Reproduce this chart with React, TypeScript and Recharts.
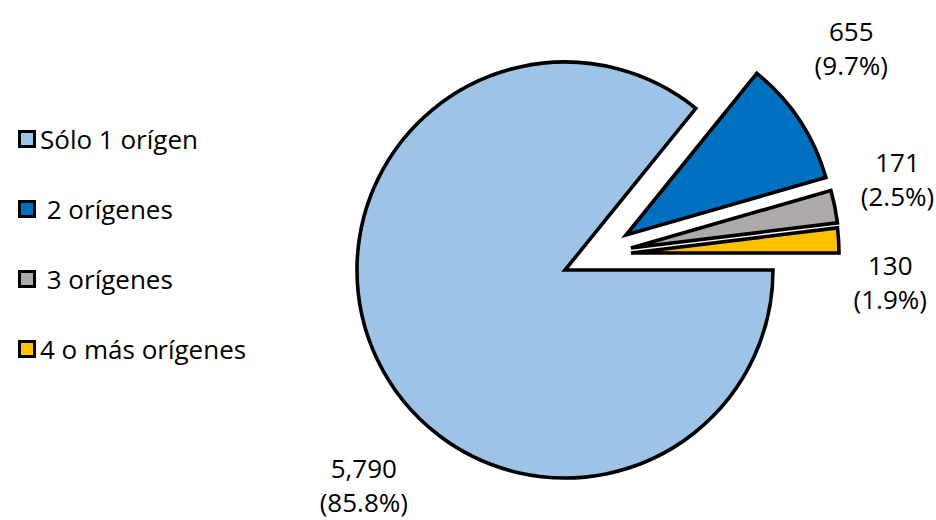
import React from "react";
import { Cell, Legend, Pie, PieChart } from "recharts";

const categories = ["Sólo 1 orígen", " 2 orígenes", " 3 orígenes", "4 o más orígenes"];
const counts = [5790, 655, 171, 130];
const colors = ["#9DC3E6", "#0070C0", "#AEAAAA", "#FFC000"];

// explode offsets (px) for each slice, and where its label sits (angle deg, radius px)
const explode = [
  { dx: 0, dy: 0 },
  { dx: 61, dy: -35 },
  { dx: 66, dy: -22 },
  { dx: 66, dy: -17 },
];
const labelPlace = [
  { angle: -133, r: 295 },
  { angle: 39.5, r: 292 },
  { angle: 14.3, r: 275 },
  { angle: -6.6, r: 261 },
];

const data = categories.map((name, i) => ({ name, value: counts[i] }));
const total = counts.reduce((a, b) => a + b, 0);

const FONT = "'Open Sans', sans-serif";
const CX = 565;
const CY = 270;
const RADIUS = 208;

const fmt = (n: number) => n.toLocaleString("en-US");

const makeLabel = (slice: number) => (props: any) => {
  if (props.index !== slice) return null;
  const p = labelPlace[slice];
  const rad = (p.angle * Math.PI) / 180;
  const x = props.cx + p.r * Math.cos(rad);
  const y = props.cy - p.r * Math.sin(rad);
  const pct = ((counts[slice] / total) * 100).toFixed(1);
  return (
    <text x={x} y={y} textAnchor="middle" fill="#000" fontFamily={FONT} fontSize={26}>
      <tspan x={x} dy={-8}>{fmt(counts[slice])}</tspan>
      <tspan x={x} dy={34}>({pct}%)</tspan>
    </text>
  );
};

const LegendBox = () => (
  <div style={{ fontFamily: FONT, fontSize: 26, color: "#000" }}>
    {categories.map((c, i) => (
      <div key={c} style={{ display: "flex", alignItems: "center", height: 70, whiteSpace: "pre" }}>
        <span
          style={{
            display: "inline-block",
            width: 12,
            height: 12,
            background: colors[i],
            border: "3px solid #000",
            marginRight: 4,
          }}
        />
        <span>{c}</span>
      </div>
    ))}
  </div>
);

export default function App() {
  return (
    <div style={{ position: "absolute", left: 0, top: 0, background: "#fff" }}>
      <PieChart width={936} height={520} margin={{ top: 0, right: 0, bottom: 0, left: 0 }}>
        {explode.map((e, s) => (
          <Pie
            key={s}
            data={data}
            dataKey="value"
            nameKey="name"
            cx={CX + e.dx}
            cy={CY + e.dy}
            outerRadius={RADIUS}
            startAngle={0}
            endAngle={-360}
            isAnimationActive={false}
            label={makeLabel(s)}
            labelLine={false}
            legendType="none"
          >
            {data.map((d, i) => (
              <Cell
                key={d.name}
                fill={i === s ? colors[i] : "none"}
                stroke={i === s ? "#000" : "none"}
                strokeWidth={3.6}
                strokeLinejoin="miter"
              />
            ))}
          </Pie>
        ))}
        <Legend
          content={() => <LegendBox />}
          layout="vertical"
          wrapperStyle={{ position: "absolute", left: 18, top: 104, width: 280 }}
        />
      </PieChart>
    </div>
  );
}
